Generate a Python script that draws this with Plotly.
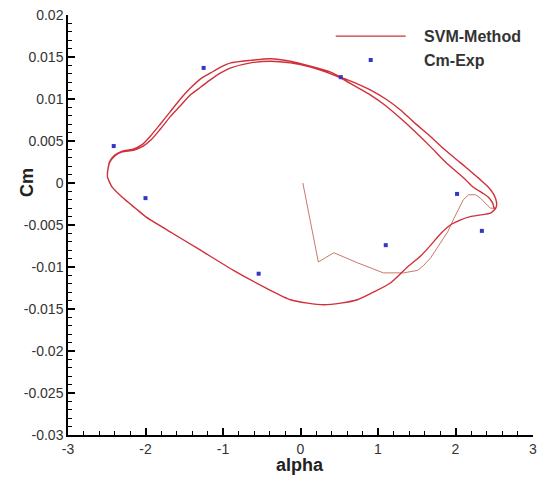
import plotly.graph_objects as go

# ---- data ----
# initial transient of the SVM-Method response
alpha_transient = [0.03, 0.23, 0.43, 0.735, 1.07, 1.33, 1.51, 1.59, 1.68, 1.81, 1.90, 1.97, 2.10, 2.17, 2.26, 2.32, 2.45, 2.52]
cm_transient = [0.0, -0.0094, -0.0083, -0.0095, -0.0107, -0.0107, -0.0104, -0.0098, -0.0089, -0.0071, -0.0058, -0.0044, -0.0020, -0.0014, -0.0014, -0.0018, -0.0030, -0.0030]

# upper branch, first cycle (left -> right)
alpha_upper1 = [-2.49, -2.465, -2.40, -2.30, -2.17, -2.04, -1.935, -1.81, -1.68, -1.55, -1.42, -1.29, -1.16, -1.03, -0.90, -0.645, -0.39, -0.13, 0.13, 0.39, 0.52, 0.71, 0.90, 1.10, 1.29, 1.48, 1.68, 1.87, 2.065, 2.22, 2.32, 2.425, 2.49, 2.53, 2.52]
cm_upper1 = [0.0013, 0.0025, 0.0033, 0.0038, 0.0040, 0.0046, 0.0056, 0.0070, 0.0085, 0.0100, 0.0113, 0.0124, 0.0131, 0.0138, 0.0143, 0.0146, 0.0148, 0.0145, 0.0139, 0.0132, 0.0126, 0.0119, 0.0111, 0.0100, 0.0087, 0.0071, 0.0055, 0.0039, 0.0024, 0.0012, 0.0004, -0.0005, -0.0013, -0.0023, -0.0030]

# upper branch, second cycle (left -> right)
alpha_upper2 = [-2.49, -2.465, -2.40, -2.30, -2.155, -2.03, -1.92, -1.81, -1.68, -1.55, -1.42, -1.29, -1.16, -1.03, -0.90, -0.645, -0.39, -0.13, 0.13, 0.39, 0.52, 0.71, 0.90, 1.10, 1.29, 1.48, 1.68, 1.87, 2.13, 2.23, 2.35, 2.425, 2.48, 2.50]
cm_upper2 = [0.0013, 0.0024, 0.0032, 0.0037, 0.0039, 0.0044, 0.0052, 0.0064, 0.0079, 0.0092, 0.0105, 0.0114, 0.0123, 0.0131, 0.0137, 0.0143, 0.0145, 0.0143, 0.0138, 0.0130, 0.0125, 0.0115, 0.0105, 0.0092, 0.0077, 0.0061, 0.0043, 0.0025, 0.0004, -0.0005, -0.0012, -0.0017, -0.0024, -0.0030]

# lower branch (left -> right)
alpha_lower = [-2.49, -2.49, -2.43, -2.30, -2.13, -2.00, -1.72, -1.29, -0.865, -0.425, -0.13, 0.09, 0.30, 0.52, 0.735, 0.94, 1.16, 1.38, 1.55, 1.68, 1.81, 1.935, 2.065, 2.19, 2.32, 2.45, 2.52]
cm_lower = [0.0013, 0.0007, -0.0005, -0.0017, -0.0030, -0.0040, -0.0056, -0.0080, -0.0104, -0.0126, -0.0139, -0.0143, -0.0145, -0.0143, -0.0139, -0.0130, -0.0119, -0.0100, -0.0087, -0.0074, -0.0060, -0.0050, -0.0044, -0.0040, -0.0038, -0.0036, -0.0030]

# experimental points
alpha_exp = [-2.41, -2.00, -1.25, -0.54, 0.52, 1.10, 2.02, 2.34]
cm_exp = [0.0044, -0.0018, 0.0137, -0.0108, 0.0126, -0.0074, -0.0013, -0.0057]

x_tickvals = [-3, -2, -1, 0, 1, 2, 3]
x_ticktext = ["-3", "-2", "-1", "0", "1", "2", "3"]
y_tickvals = [0.02, 0.015, 0.01, 0.005, 0, -0.005, -0.01, -0.015, -0.02, -0.025, -0.03]
y_ticktext = ["0.02", "0.015", "0.01", "0.005", "0", "-0.005", "-0.01", "-0.015", "-0.02", "-0.025", "-0.03"]

# ---- build the path of the loop (two cycles) ----
loop_x = (alpha_upper1[::-1] + alpha_lower + alpha_upper2[::-1] + alpha_lower)
loop_y = (cm_upper1[::-1] + cm_lower + cm_upper2[::-1] + cm_lower)

FONT = "Liberation Sans, Arial, sans-serif"
RED = "#d0303a"

W, H = 539, 478
ML, MR, MT, MB = 68, 6, 15, 43
plot_w, plot_h = W - ML - MR, H - MT - MB

fig = go.Figure()
fig.add_trace(go.Scatter(x=alpha_transient, y=cm_transient, mode="lines",
                         line=dict(color="#c8786a", width=1), showlegend=False,
                         hoverinfo="skip"))
fig.add_trace(go.Scatter(x=loop_x, y=loop_y, mode="lines",
                         name="\u00a0\u00a0\u00a0<b>SVM-Method</b>",
                         line=dict(color=RED, width=1.4, shape="spline", smoothing=0.6)))
fig.add_trace(go.Scatter(x=alpha_exp, y=cm_exp, mode="markers",
                         name="\u00a0\u00a0\u00a0<b>Cm-Exp</b>",
                         marker=dict(symbol="square", size=4, color="#3535c8")))

axis_common = dict(showline=True, linecolor="black", linewidth=1.5, ticks="inside",
                   ticklen=7, tickwidth=1.5, tickcolor="black", showgrid=False,
                   zeroline=False, mirror=False, automargin=False,
                   ticklabeloverflow="allow",
                   tickfont=dict(family=FONT, size=14, color="#333"))

fig.update_xaxes(range=[-3, 3], tickmode="array", tickvals=x_tickvals, ticktext=x_ticktext,
                 minor=dict(dtick=0.2, tick0=0, ticks="inside", ticklen=4, tickwidth=1, tickcolor="black"),
                 **axis_common)
fig.update_yaxes(range=[-0.03, 0.02], tickmode="array", tickvals=y_tickvals, ticktext=y_ticktext,
                 minor=dict(dtick=0.001, tick0=0, ticks="inside", ticklen=4, tickwidth=1, tickcolor="black"),
                 **axis_common)

fig.update_layout(
    width=W, height=H,
    margin=dict(l=ML, r=MR, t=MT, b=MB, autoexpand=False),
    plot_bgcolor="white", paper_bgcolor="white",
    legend=dict(x=0.565, y=0.99, xanchor="left", yanchor="top", itemwidth=70,
                bgcolor="rgba(0,0,0,0)", font=dict(family=FONT, size=16, color="#333"),
                tracegroupgap=0),
    showlegend=True,
    annotations=[
        dict(text="<b>alpha</b>", xref="paper", yref="paper",
             x=(300 - ML) / plot_w, y=1 - (465 - MT) / plot_h, showarrow=False,
             xanchor="center", yanchor="middle",
             font=dict(family=FONT, size=18, color="#222")),
        dict(text="<b>Cm</b>", xref="paper", yref="paper",
             x=(27 - ML) / plot_w, y=1 - (183 - MT) / plot_h, showarrow=False, textangle=-90,
             xanchor="center", yanchor="middle",
             font=dict(family=FONT, size=18, color="#222")),
    ],
)

# remove the default page margin so the figure sits at the window's origin
fig.write_html("out.html", config={"displayModeBar": False},
               post_script="document.body.style.margin='0px';")
